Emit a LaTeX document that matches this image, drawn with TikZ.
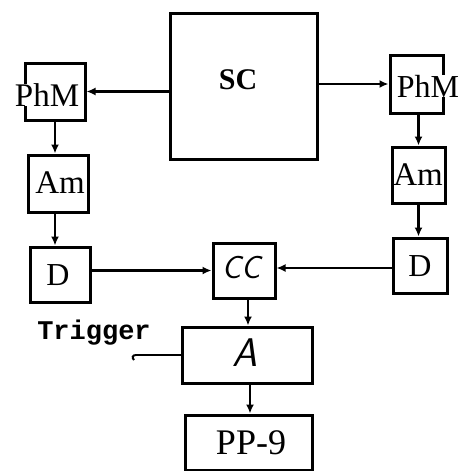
\documentclass[tikz,border=0pt]{standalone}
\usepackage{fontspec}
\setmainfont{Liberation Serif}
\newfontfamily\monofont{Liberation Mono}
\usetikzlibrary{arrows.meta}
\begin{document}
\begin{tikzpicture}[x=1pt,y=-1pt,
  blk/.style={draw,line width=3pt,inner sep=0pt},
  lbl/.style={inner sep=0pt,font=\fontsize{32}{34}\selectfont},
  con/.style={line width=2.5pt},
  arr/.style={con,-{Latex[length=9pt,width=8pt]}}]
\useasboundingbox (0,0) rectangle (461,471);
% boxes
\node[blk,minimum width=147pt,minimum height=146pt] (sc) at (243.5,86) {};
\node[lbl,font=\fontsize{30}{32}\selectfont\bfseries] (sct) at (238,80) {SC};
\node[blk,minimum width=60pt,minimum height=57pt] (lphm) at (55,91.5) {};
\node[lbl,fill=white,font=\fontsize{33}{35}\selectfont] (lphmt) at (47,95) {PhM};
\node[blk,minimum width=53pt,minimum height=58pt] (rphm) at (416.5,84) {};
\node[lbl,fill=white,font=\fontsize{32}{34}\selectfont] (rphmt) at (428,86) {PhM};
\node[blk,minimum width=60pt,minimum height=57pt] (lam) at (58,183.5) {};
\node[lbl,font=\fontsize{33}{35}\selectfont] (lamt) at (60,183) {Am};
\node[blk,minimum width=53pt,minimum height=56pt] (ram) at (418.5,175) {};
\node[lbl,font=\fontsize{33}{35}\selectfont] (ramt) at (418,175) {Am};
\node[blk,minimum width=60pt,minimum height=55pt] (ld) at (60,274.5) {};
\node[lbl] (ldt) at (58,275) {D};
\node[blk,minimum width=54pt,minimum height=55pt] (rd) at (420,265.5) {};
\node[lbl] (rdt) at (420,266) {D};
\node[blk,minimum width=62pt,minimum height=55pt] (cg) at (244,270.5) {};
\node[lbl,font=\fontsize{32}{34}\selectfont\sffamily\itshape] (cgt) at (241,268) {CC};
\node[blk,minimum width=130pt,minimum height=56pt] (a) at (247,355) {};
\node[lbl,font=\fontsize{40}{42}\selectfont\sffamily\itshape] (at) at (245,353) {A};
\node[blk,minimum width=127pt,minimum height=55pt] (pp) at (248.5,442.5) {};
\node[lbl,font=\fontsize{36}{38}\selectfont] (ppt) at (251,443) {PP-9};
\node[lbl,font=\fontsize{27}{29}\selectfont\monofont\bfseries] (trig) at (94,333) {Trigger};
\coordinate (tin) at (136,355);
% connectors
\draw[arr] (sc.west |- lphm.east) -- (lphm.east);
\draw[arr] (sc.east |- rphm.west) -- (rphm.west);
\draw[arr] (lphm.south) -- (lphm.south |- lam.north);
\draw[arr] (lam.south -| lphm.south) -- (lphm.south |- ld.north);
\draw[arr] (rphm.south -| ram.north) -- (ram.north);
\draw[arr] (ram.south) -- (ram.south |- rd.north);
\draw[arr] (ld.east |- cg.west) -- (cg.west);
\draw[arr] (rd.west |- 0,268) -- (cg.east |- 0,268);
\draw[arr] (cg.south -| 248,0) -- (a.north -| 248,0);
\draw[arr] (a.south -| 250,0) -- (pp.north -| 250,0);
\draw[con] (tin) -- (tin -| a.west);
\draw[line width=2pt] (tin) .. controls (132,355) and (132,358) .. (134,360);
\end{tikzpicture}
\end{document}
